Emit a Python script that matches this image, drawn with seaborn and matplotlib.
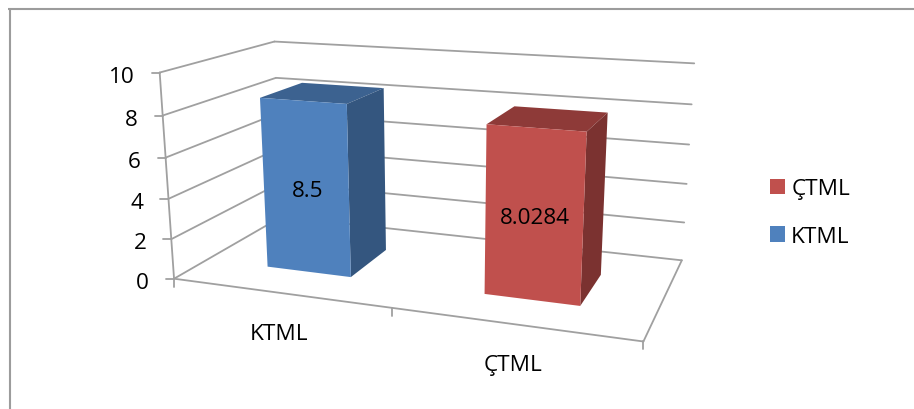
import numpy as np
import pandas as pd
import matplotlib
matplotlib.use("Agg")
import matplotlib.pyplot as plt
from matplotlib.patches import Patch, Polygon
from matplotlib.transforms import Affine2D, Transform
import seaborn as sns

categories = ["KTML", "ÇTML"]
values = [8.5, 8.0284]
value_labels = ["8.5", "8.0284"]
y_ticks = [0, 2, 4, 6, 8, 10]

FRONT_COLORS = ["#4F81BD", "#C0504D"]
TOP_COLORS = ["#3C6290", "#8E3A38"]
SIDE_COLORS = ["#34567F", "#7B3230"]
LINE_COLOR = "#A0A0A0"
WIDTH, HEIGHT = 914, 410
BAR_SPAN = 0.4
DEPTH_NEAR, DEPTH_FAR = 0.28, 0.68

sns.set_theme(style="white")
plt.rcParams["font.family"] = ["Open Sans", "DejaVu Sans"]
FONT_SIZE = 16.2

# Camera calibration of the 3D plot box: (category pos, value, depth) -> pixel
box_points = [
    (-0.5, 0, 0, 173, 280), (-0.5, 10, 0, 161, 73),
    (1.5, 0, 0, 643, 341), (1.5, 10, 0, 657, 106),
    (-0.5, 0, 1, 283, 217), (-0.5, 10, 1, 273, 43),
    (1.5, 0, 1, 682, 262), (1.5, 10, 1, 694, 64),
    (0.5, 0, 0, 391, 310),
]
rows = []
for x, v, d, px, py in box_points:
    world = [x, v / 10, d, 1]
    rows.append(world + [0, 0, 0, 0] + [-px / 500 * w for w in world])
    rows.append([0, 0, 0, 0] + world + [-py / 500 * w for w in world])
camera = np.linalg.svd(np.array(rows))[2][-1].reshape(3, 4)


def project(x, v, d):
    """Pixel position (origin top left) of a point in the plot box."""
    x, v, d = np.asarray(x, float), np.asarray(v, float), np.asarray(d, float)
    world = np.stack([x + 0 * (v + d), v / 10 + 0 * (x + d), d + 0 * (x + v),
                      np.ones_like(x + v + d)], axis=-1)
    h = world @ camera.T
    return h[..., 0] / h[..., 2] * 500, h[..., 1] / h[..., 2] * 500


to_display = Affine2D().scale(1, -1).translate(0, HEIGHT)


class DepthPlane(Transform):
    """Maps (category, value) at a fixed depth of the box to display space."""
    input_dims = output_dims = 2
    is_affine = False
    has_inverse = False

    def __init__(self, plane_depth):
        super().__init__()
        self.plane_depth = plane_depth

    def transform_non_affine(self, values):
        values = np.asarray(values, float)
        px, py = project(values[:, 0], values[:, 1], self.plane_depth)
        return np.column_stack([px, HEIGHT - py])


fig = plt.figure(figsize=(WIDTH / 100, HEIGHT / 100), dpi=100, facecolor="white")
ax = fig.add_axes([0, 0, 1, 1])

data = pd.DataFrame({"group": categories, "value": values})
sns.barplot(data=data, x="group", y="value", hue="group", palette=FRONT_COLORS,
            saturation=1, width=BAR_SPAN, linewidth=0, legend=False, ax=ax)
ax.set_axis_off()

line_style = dict(color=LINE_COLOR, lw=1.3, solid_capstyle="round", zorder=0.5,
                  clip_on=False)


def box_line(start, end):
    xs, ys = project(*np.array([start, end]).T)
    ax.plot(xs, ys, transform=to_display, **line_style)


# Walls, floor and axis lines of the box
for t in y_ticks:
    box_line((-0.5, t, 0), (-0.5, t, 1))
    box_line((-0.5, t, 1), (1.5, t, 1))
    px, py = project(-0.5, t, 0)
    ax.plot([px - 8, px], [py, py], transform=to_display, **line_style)
    ax.text(px - 25, py + 1, str(t), transform=to_display, ha="right", va="center_baseline",
            fontsize=FONT_SIZE, color="black")
box_line((-0.5, 0, 0), (-0.5, 10, 0))
box_line((-0.5, 0, 0), (1.5, 0, 0))
box_line((1.5, 0, 0), (1.5, 0, 1))
for x in (-0.5, 0.5, 1.5):
    px, py = project(x, 0, 0)
    ax.plot([px, px], [py, py + 8], transform=to_display, **line_style)

# Extrude each seaborn bar into a box: front face, top face and right side
for i, bar in enumerate(ax.patches):
    x0, x1 = bar.get_x(), bar.get_x() + bar.get_width()
    top = bar.get_height()
    bar.set_transform(DepthPlane(DEPTH_NEAR))
    bar.set_zorder(3)
    bar.set_clip_on(False)
    faces = {
        TOP_COLORS[i]: [(x0, top, DEPTH_NEAR), (x1, top, DEPTH_NEAR),
                        (x1, top, DEPTH_FAR), (x0, top, DEPTH_FAR)],
        SIDE_COLORS[i]: [(x1, 0, DEPTH_NEAR), (x1, top, DEPTH_NEAR),
                         (x1, top, DEPTH_FAR), (x1, 0, DEPTH_FAR)],
    }
    for color, corners in faces.items():
        xs, ys = project(*np.array(corners).T)
        ax.add_patch(Polygon(np.column_stack([xs, ys]), closed=True, facecolor=color,
                             edgecolor="none", transform=to_display, zorder=2.9,
                             clip_on=False))
    px, py = project((x0 + x1) / 2, top / 2, DEPTH_NEAR)
    ax.text(px + 1.5, py + 2, value_labels[i], transform=to_display, ha="center",
            va="center", fontsize=FONT_SIZE, color="black", zorder=4)

# Category labels under the floor
for i, name in enumerate(categories):
    px, py = project(i, 0, 0)
    ax.text(px, py + 41, name, transform=to_display, ha="center", va="center",
            fontsize=FONT_SIZE, color="black")

# Chart frame, open on the right and at the bottom
frame_style = dict(color="#9C9C9C", lw=1.5, transform=to_display, clip_on=False,
                   solid_capstyle="butt")
ax.plot([9.5, 9.5], [9, HEIGHT], **frame_style)
ax.plot([8, WIDTH], [9.8, 9.8], **frame_style)

handles = [Patch(facecolor=FRONT_COLORS[1], edgecolor="none", label=categories[1]),
           Patch(facecolor=FRONT_COLORS[0], edgecolor="none", label=categories[0])]
ax.legend(handles=handles, loc="center left", frameon=False, fontsize=FONT_SIZE,
          bbox_to_anchor=(770 / WIDTH, 1 - 213.5 / HEIGHT), borderaxespad=0, borderpad=0,
          handlelength=0.67, handleheight=0.67, handletextpad=0.27, labelspacing=1.18,
          labelcolor="black")

fig.savefig("out.png", dpi=100)
